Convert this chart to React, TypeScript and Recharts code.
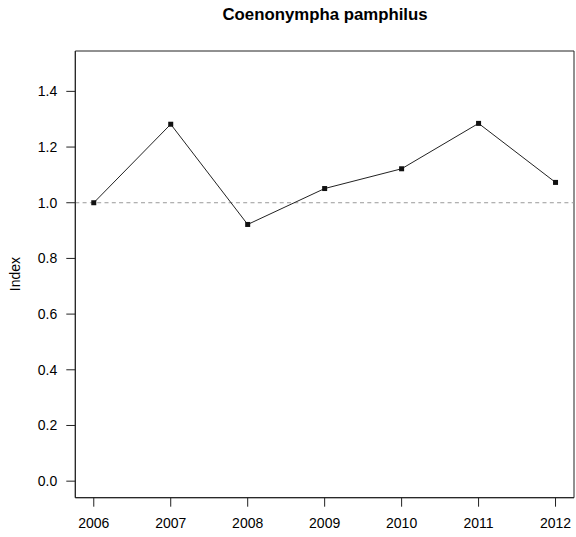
import React from 'react';
import { LineChart, Line, XAxis, YAxis, ReferenceLine, ReferenceArea } from 'recharts';

const years = [2006, 2007, 2008, 2009, 2010, 2011, 2012];
const indexValues = [1.0, 1.282, 0.922, 1.051, 1.122, 1.285, 1.073];
const yTicks = [0, 0.2, 0.4, 0.6, 0.8, 1.0, 1.2, 1.4];
const title = 'Coenonympha pamphilus';
const yLabel = 'Index';

const data = years.map((y, i) => ({ year: y, value: indexValues[i] }));

const FONT = '"Liberation Sans", Arial, Helvetica, sans-serif';
const X_DOMAIN: [number, number] = [2005.76, 2012.24];
const Y_DOMAIN: [number, number] = [-0.0594, 1.545];

const SquareDot = (props: any) => {
  const { cx, cy } = props;
  if (cx == null || cy == null) return null;
  return <rect x={cx - 2.5} y={cy - 2.5} width={5} height={5} fill="#111" />;
};

export default function App() {
  return (
    <div style={{ position: 'absolute', left: 0, top: 0, width: 576, height: 537, background: '#fff', fontFamily: FONT }}>
      <div style={{ position: 'absolute', left: 75, width: 500, top: 5, textAlign: 'center', fontWeight: 'bold', fontSize: 16.8, color: '#000', lineHeight: '20px' }}>
        {title}
      </div>
      <div style={{ position: 'absolute', left: 15, top: 274, width: 0, height: 0 }}>
        <div style={{ position: 'absolute', transform: 'translate(-50%, -50%) rotate(-90deg)', fontSize: 14, color: '#000', whiteSpace: 'nowrap', lineHeight: '16px' }}>
          {yLabel}
        </div>
      </div>
      <div style={{ position: 'absolute', left: 0, top: 0 }}>
        <LineChart width={576} height={537} data={data} margin={{ top: 51, right: 2, bottom: 0, left: 0 }}>
          <XAxis
            dataKey="year"
            type="number"
            domain={X_DOMAIN}
            ticks={years}
            allowDataOverflow
            height={39.3}
            tickSize={9}
            tickMargin={11}
            tick={{ fontSize: 14, fill: '#000', fontFamily: FONT }}
            stroke="#222"
            tickLine={{ stroke: '#222' }}
          />
          <YAxis
            type="number"
            domain={Y_DOMAIN}
            ticks={yTicks}
            allowDataOverflow
            width={75.3}
            tickSize={9}
            tickMargin={9}
            tickFormatter={(v: number) => v.toFixed(1)}
            tick={{ fontSize: 14, fill: '#000', fontFamily: FONT }}
            stroke="#222"
            tickLine={{ stroke: '#222' }}
          />
          <ReferenceArea
            x1={X_DOMAIN[0]}
            x2={X_DOMAIN[1]}
            y1={Y_DOMAIN[0]}
            y2={Y_DOMAIN[1]}
            fill="none"
            fillOpacity={0}
            stroke="#222"
            strokeWidth={1}
            ifOverflow="visible"
          />
          <ReferenceLine y={1} stroke="#999" strokeDasharray="4 3.3" />
          <Line
            type="linear"
            dataKey="value"
            stroke="#222"
            strokeWidth={1}
            dot={<SquareDot />}
            activeDot={false}
            isAnimationActive={false}
          />
        </LineChart>
      </div>
    </div>
  );
}
